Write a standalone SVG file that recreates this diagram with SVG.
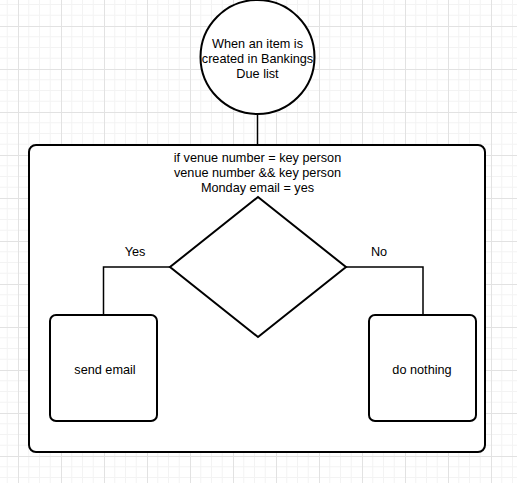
<svg xmlns="http://www.w3.org/2000/svg" width="517" height="483" viewBox="0 0 517 483">
<defs>
<pattern id="grid" x="18" y="26" width="43" height="43" patternUnits="userSpaceOnUse">
<path d="M10.75 0V43M21.5 0V43M32.25 0V43M0 10.75H43M0 21.5H43M0 32.25H43" stroke="#f3f3f3" stroke-width="1" fill="none"/>
<path d="M0.5 0V43M0 0.5H43" stroke="#e2e2e2" stroke-width="1" fill="none"/>
</pattern>
</defs>
<style>
.shape{fill:#fff;stroke:#000;stroke-width:2}
.conn{fill:none;stroke:#000;stroke-width:1.5}
text{font-family:"Liberation Sans",Arial,sans-serif;font-size:12.7px;fill:#000;text-anchor:middle}
</style>
<rect width="517" height="483" fill="#fff"/>
<rect width="517" height="483" fill="url(#grid)"/>
<g id="connectors">
<path class="conn" d="M257.5 113V145"/>
</g>
<g id="container">
<rect class="shape" x="29" y="145" width="456" height="307" rx="7"/>
<text x="257.5" y="162">if venue number = key person</text>
<text x="257.5" y="177">venue number &amp;&amp; key person</text>
<text x="257.5" y="192">Monday email = yes</text>
</g>
<g id="start">
<circle class="shape" cx="257.5" cy="57" r="57"/>
<text x="257.5" y="48">When an item is</text>
<text x="257.5" y="63">created in Bankings</text>
<text x="257.5" y="78">Due list</text>
</g>
<g id="connectors-inner">
<path class="conn" d="M170 267H103.5V314"/>
<path class="conn" d="M346 267H423V314"/>
<text x="135" y="256">Yes</text>
<text x="379" y="256">No</text>
</g>
<g id="decision">
<polygon class="shape" points="258,197 346,267 258,337 170,267"/>
</g>
<g id="send-email">
<rect class="shape" x="50" y="315" width="107" height="106" rx="6"/>
<text x="105" y="374">send email</text>
</g>
<g id="do-nothing">
<rect class="shape" x="369" y="315" width="107" height="106" rx="6"/>
<text x="422" y="374">do nothing</text>
</g>
</svg>
